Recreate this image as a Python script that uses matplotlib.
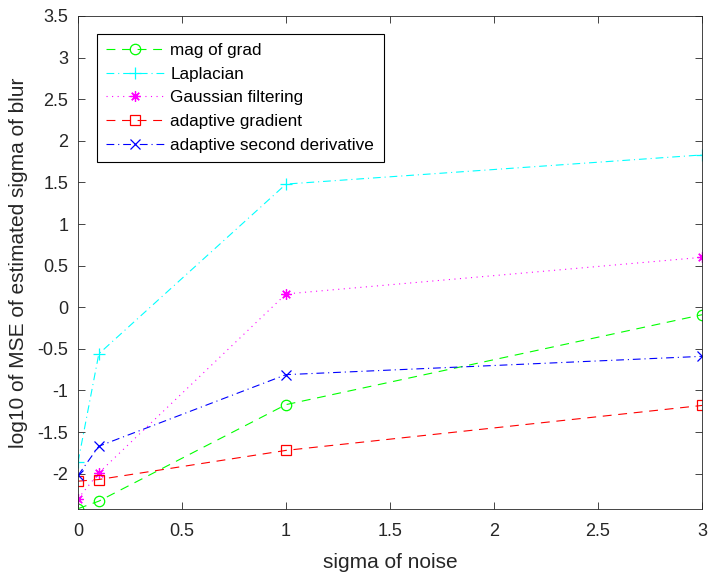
import matplotlib
matplotlib.use("Agg")
import matplotlib.pyplot as plt

plt.rcParams['font.family'] = ['Liberation Sans', 'DejaVu Sans']

sigma_noise = [0, 0.1, 1, 3]
mag_grad = [-2.42, -2.33, -1.17, -0.09]
laplacian = [-1.86, -0.56, 1.48, 1.83]
gauss_filt = [-2.30, -1.99, 0.16, 0.60]
adapt_grad = [-2.09, -2.07, -1.72, -1.18]
adapt_second = [-2.02, -1.67, -0.81, -0.59]

fig = plt.figure(figsize=(7.1, 5.76), dpi=100)
ax = fig.add_axes([0.1099, 0.1155, 0.8789, 0.8568])

dash = (0, (8, 6))
dashdot = (0, (7, 3.5, 1, 3.5))
dot = (0, (1, 4))

ax.plot(sigma_noise, mag_grad, color='#00ff00', ls=dash, lw=0.8,
        marker='o', ms=7.5, mfc='none', mew=0.9, label='mag of grad')
ax.plot(sigma_noise, laplacian, color='#00ffff', ls=dashdot, lw=0.8,
        marker='+', ms=8, mew=0.9, label='Laplacian')
ax.plot(sigma_noise, gauss_filt, color='#ff00ff', ls=dot, lw=0.8,
        marker=(8, 2, 0), ms=7.5, mew=0.9, label='Gaussian filtering')
ax.plot(sigma_noise, adapt_grad, color='#ff0000', ls=dash, lw=0.8,
        marker='s', ms=6.5, mfc='none', mew=0.9, label='adaptive gradient')
ax.plot(sigma_noise, adapt_second, color='#0000ff', ls=dashdot, lw=0.8,
        marker='x', ms=7.5, mew=0.9, label='adaptive second derivative')

ax.set_xlim(0, 3)
ax.set_ylim(-2.43, 3.5)
ax.set_xticks([0, 0.5, 1, 1.5, 2, 2.5, 3])
ax.set_xticklabels(['0', '0.5', '1', '1.5', '2', '2.5', '3'])
ax.set_yticks([-2, -1.5, -1, -0.5, 0, 0.5, 1, 1.5, 2, 2.5, 3, 3.5])
ax.set_yticklabels(['-2', '-1.5', '-1', '-0.5', '0', '0.5', '1', '1.5', '2', '2.5', '3', '3.5'])
ax.tick_params(direction='in', top=True, right=True, length=5, width=0.6,
               color='#262626', labelsize=13, labelcolor='#262626')
ax.tick_params(axis='x', pad=10)
ax.tick_params(axis='y', pad=7)
for s in ax.spines.values():
    s.set_color('#262626')
    s.set_linewidth(0.6)

ax.set_xlabel('sigma of noise', fontsize=15, color='#262626', labelpad=9)
ax.set_ylabel('log10 of MSE of estimated sigma of blur', fontsize=15,
              color='#262626', labelpad=7)

leg = ax.legend(loc='upper left', bbox_to_anchor=(19 / 624, 1 - 18 / 493.5),
                borderaxespad=0, fontsize=12.3, fancybox=False, edgecolor='black',
                framealpha=1, handlelength=3.4, handletextpad=0.35,
                borderpad=0.55, labelspacing=0.5)
leg.get_frame().set_linewidth(0.8)

fig.savefig('out.png', dpi=100)
